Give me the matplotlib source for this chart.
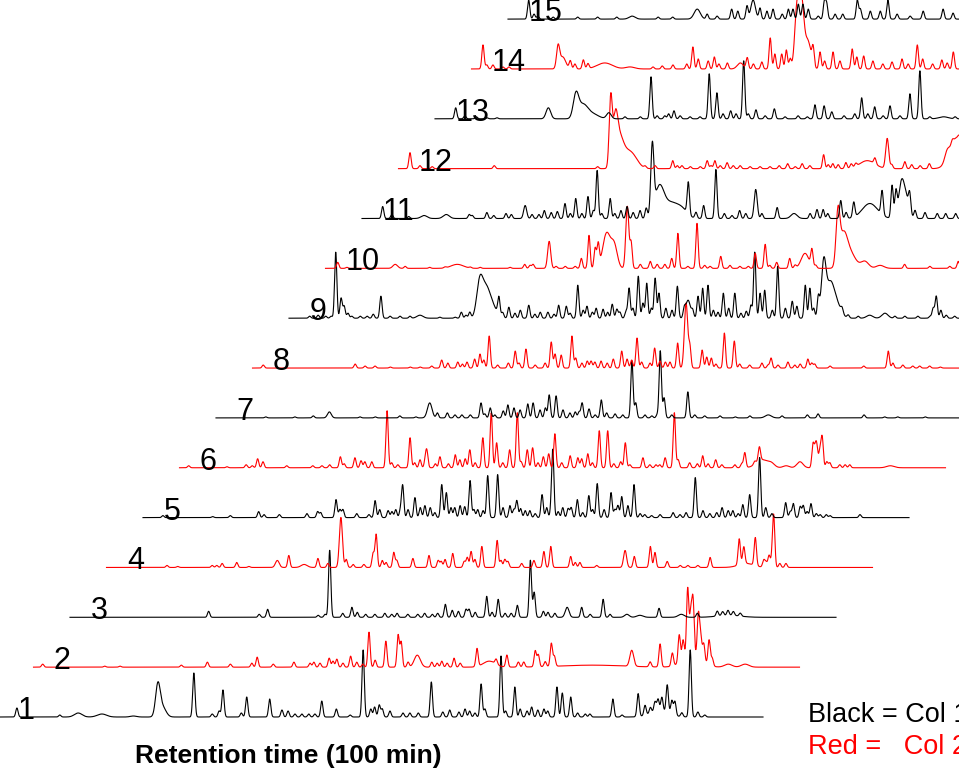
import numpy as np
import matplotlib
matplotlib.use("Agg")
import matplotlib.pyplot as plt

# ---------------- data: peaks per chromatogram (retention time in min, relative intensity, optional width in min)
trace_labels = [str(i) for i in range(1, 16)]
trace_colors = ["black", "red"] * 8

peaks_01 = [(2.6,9),(8.2,2),(10.6,4,0.5),(13.7,3,0.6),(17.8,1,0.4),(21.0,31,0.3),(21.6,10,0.45),
            (25.7,44),(28.1,3),(29.0,6),(29.5,27),(31.9,4),(32.6,20),(35.6,18),(37.2,7),(38.0,6),
            (38.9,3),(39.8,3),(40.7,3),(41.5,3),(42.4,16),(44.3,8),(46.1,2),(47.8,67),(48.8,8),
            (49.3,10),(49.9,12),(50.3,8),(51.3,6),(53.0,4),(53.9,4),(55.0,4),(56.7,35),(58.2,5),
            (59.1,7),(60.3,5),(61.1,8),(61.7,6),(62.4,4),(63.2,33),(63.7,8),(65.8,61),(66.4,6),
            (67.6,30),(68.3,8),(69.2,6),(69.8,10),(70.6,7),(71.4,8),(71.9,6),(73.1,30),(73.8,24),
            (74.9,20),(75.8,4),(76.8,3),(77.4,3),(80.4,18),(81.6,2),(83.7,23),(84.6,10),(85.3,6),
            (85.9,10),(86.3,12),(86.8,14),(87.5,28),(88.1,14),(88.5,14),(89.4,4),(90.5,67),
            (91.5,5),(92.4,2),(86.5,6,1.2)]

peaks_02 = [(1.2,3),(9.3,1),(11.3,1),(19.3,2),(22.7,5),(25.7,3),(28.5,4),(29.2,10),(31.3,3),
            (34.0,5),(36.1,4),(36.6,5),(37.4,4),(38.6,9),(39.1,6),(39.6,8),(40.4,4),(41.4,11),
            (42.2,5),(43.0,3),(43.8,35),(44.6,7),(46.0,26),(47.6,32),(48.0,25),(48.9,5),
            (50.1,12,0.4),(52.0,5),(52.7,4),(53.3,6),(54.0,4),(54.9,9),(55.7,4),(57.9,18),
            (59.5,6,0.8),(60.4,5),(61.8,12),(63.3,5),(64.0,5),(65.5,16),(65.9,12),(66.8,5),
            (67.6,23),(68.0,10),(78.1,16,0.25),(80.5,5),(81.8,23),(83.4,13),(84.3,28),(84.8,20),
            (85.4,68),(85.8,40),(86.1,54),(86.8,43),(87.1,22),(87.5,18),(88.2,25),(88.6,8),
            (90.7,3,0.5),(92.9,3,0.5),(73.0,2,4.0),(86.0,12,1.2)]

peaks_03 = [(18.1,6),(24.7,3),(25.8,8),(32.4,2),(33.3,3),(33.9,67),(35.6,4),(36.8,10),(37.5,5),
            (38.6,3),(39.8,3),(41.1,4),(42.0,3),(42.7,4),(44.1,3),(45.4,3),(46.3,4),(47.3,3),
            (48.0,4),(49.0,13),(49.9,7),(50.7,6),(51.7,8),(52.1,8),(52.9,5),(54.4,21),(55.1,5),
            (55.9,18),(56.8,4),(57.6,4),(58.4,12),(60.1,57),(60.6,25),(61.8,6),(62.4,5),(63.3,4),
            (64.9,10,0.25),(66.8,10),(67.9,3),(69.6,18),(70.5,3),(72.7,3,0.3),(74.4,2,0.4),
            (76.9,9),(79.8,3,0.4),(81.9,4),(84.5,5),(85.2,4),(85.9,5),(86.6,4),(87.5,3),
            (86.0,2,1.5)]

peaks_04 = [(7.9,2),(9.3,1),(13.8,2),(14.4,2),(15.1,4),(17.0,5),(18.6,1),(22.3,7,0.25),(23.8,12),
            (25.8,3,0.4),(27.6,9),(28.9,4),(30.6,50,0.2),(31.3,8),(32.2,3),(33.6,3),(34.8,14),
            (35.2,33),(36.0,7),(36.5,5),(37.5,15),(37.9,7),(40.0,9),(42.1,12),(43.3,7),(43.7,6),
            (44.2,8),(45.2,14),(46.7,6),(47.1,10),(47.6,16),(48.1,8),(49.0,21),(51.0,27),(51.5,7),
            (52.0,8),(52.4,6),(54.2,4),(55.8,7),(57.1,16),(58.0,21),(60.6,11),(61.2,5),(61.8,5),
            (64.0,2),(67.7,17,0.2),(68.9,11),(71.0,21),(71.6,15),(73.2,6),(74.9,2),(75.9,2),
            (77.2,2),(78.8,10),(82.6,26),(83.2,17),(84.7,28),(85.8,7),(86.1,5),(86.5,12),
            (86.9,8),(87.1,50),(87.9,4),(88.7,4),(83.5,4,1.0)]

peaks_05 = [(2.6,2),(9.1,1),(11.4,2),(15.1,6),(15.8,3),(17.8,3),(21.4,4),(22.8,6),(23.2,5),
            (25.2,18),(25.7,8),(26.1,8),(27.9,4),(29.5,3),(30.3,17),(30.9,8),(32.0,7),(32.5,6),
            (33.0,8),(33.6,7),(33.9,32),(34.6,8),(35.5,20),(36.2,10),(36.8,12),(37.5,10),(38.1,5),
            (39.0,33),(39.6,25),(40.2,10),(40.7,10),(41.4,12),(42.0,11),(42.7,37),(43.2,8),
            (43.7,8),(44.4,7),(45.0,42),(46.3,43),(47.0,10),(47.9,12),(48.4,8),(48.8,17),(49.3,9),
            (49.9,7),(50.5,7),(51.2,4),(52.1,23),(52.7,10),(53.3,8),(53.5,65),(54.2,6),(54.8,10),
            (55.5,9),(55.9,10),(56.7,18),(57.4,5),(58.2,22),(58.7,8),(59.3,34),(60.2,8),(61.1,25),
            (61.6,8),(62.0,12),(62.5,21),(63.3,12),(64.1,33),(64.9,4),(65.5,3),(66.4,2),(67.5,3),
            (69.2,5),(70.1,3),(70.9,5),(72.1,40),(73.1,7),(74.0,4),(74.9,5),(75.6,10),(76.4,7),
            (77.0,7),(77.7,4),(78.3,13),(79.2,23),(80.5,60),(81.3,10),(82.1,4),(83.9,15),(84.5,6),
            (84.9,14),(85.8,11),(86.2,12),(86.7,6),(87.2,14),(87.9,4),(88.4,3),(89.2,3),(89.7,2),
            (93.6,3)]

peaks_06 = [(1.2,2),(6.2,1),(8.7,3),(9.5,2),(10.2,9),(10.9,6),(14.0,2),(17.4,2),(18.6,2),(19.6,3),
            (21.0,11),(21.5,4),(22.9,10),(23.7,7),(24.2,6),(25.1,6),(27.1,57),(27.7,5),(28.5,3),
            (30.1,30),(30.7,5),(31.4,8),(32.1,8),(32.3,15),(33.4,4),(34.0,11),(35.1,4),(36.0,13),
            (36.6,8),(37.3,9),(37.9,18),(38.6,5),(39.6,30),(40.7,55),(41.4,25),(42.2,5),(43.1,18),
            (44.1,55),(44.6,6),(45.4,18),(46.1,20),(46.8,5),(47.5,11),(48.2,14),(49.0,34),(49.9,5),
            (51.0,12),(52.0,10),(52.5,9),(53.3,14),(53.9,5),(54.8,37),(55.9,37),(56.7,4),(57.6,6),
            (58.2,25),(58.8,3),(60.5,10),(61.4,3),(62.2,3),(62.7,3),(63.4,10),(64.6,55),(65.1,8),
            (66.6,5),(67.6,4),(68.3,12),(69.0,4),(70.0,8),(70.8,3),(72.5,3),(73.4,4),(73.8,15),
            (75.1,3),(75.7,14),(76.1,8,0.8),(77.3,3,0.4),(79.2,2,0.4),(81.0,6,0.4),(82.7,23),
            (83.0,15),(83.2,18),(83.6,16),(83.9,30),(84.5,6),(84.9,5),(86.2,3),(86.9,3),(87.5,3),
            (92.8,2,0.5)]

peaks_07 = [(6.5,1),(10.3,1),(12.7,2),(14.8,6,0.25),(18.8,1),(20.8,1),(24.0,2),(26.1,1),
            (27.9,15,0.3),(28.9,5),(30.2,5),(31.2,3),(32.1,3),(33.2,3),(34.6,15),(35.1,4),(35.8,10),
            (36.4,3),(37.5,7),(38.1,13),(38.9,10),(39.7,8),(40.7,14),(41.4,15),(42.3,8),(43.0,10),
            (43.5,23),(44.4,22),(45.3,8),(46.2,5),(46.9,6),(47.4,6),(47.8,15),(48.7,9),(49.5,3),
            (50.3,18),(51.0,5),(52.1,4),(53.1,3),(54.3,57),(54.8,15),(56.0,3),(56.9,2),(57.6,3),
            (58.0,67),(58.5,20),(59.5,3),(61.6,26),(62.5,3),(63.8,2),(65.8,2),(67.8,1),(69.7,2),
            (72.1,3,0.4),(73.9,2),(77.2,3),(78.6,4),(84.6,3),(87.3,1),(89.0,1),(92.6,1)]

peaks_08 = [(1.4,3),(13.4,4),(14.7,2),(16.0,2),(18.0,1),(20.6,1),(21.9,1),(23.4,2),(24.7,8),
            (25.5,5),(26.8,6),(27.4,4),(28.0,6),(29.0,9),(29.7,14),(30.2,8),(30.9,32),(32.0,3),
            (33.4,5),(34.3,17),(34.8,5),(35.7,19),(36.9,3),(38.2,5),(39.0,26),(39.5,14),(40.3,13),
            (41.7,32),(42.2,10),(43.0,5),(43.7,7),(44.2,7),(44.7,6),(45.5,7),(46.3,5),(47.1,9),
            (48.2,17),(48.9,9),(49.5,8),(50.2,30),(50.8,6),(51.9,5),(52.5,20),(53.2,7),(53.9,6),
            (54.5,6),(55.5,25),(56.6,65,0.22),(57.1,20),(58.7,18),(59.3,11),(59.9,10),(60.5,4),
            (61.6,35),(62.9,27),(63.6,4),(64.9,3),(66.5,5),(67.3,3),(67.7,10),(68.6,3),(69.9,6),
            (70.8,3),(71.5,4),(72.5,9),(73.0,5),(73.4,4),(75.4,2),(79.8,2),(83.0,17),(83.6,5),
            (84.9,3),(86.2,2),(87.1,2),(88.4,2),(89.8,1)]

peaks_09 = [(2.7,2),(3.8,3),(4.8,2),(5.5,2),(6.1,66),(6.8,20),(7.2,12),(7.7,5),(8.2,2),(9.3,2),
            (10.2,2),(11.0,4),(12.0,22),(13.2,2),(14.5,2),(15.8,2),(17.1,3,0.4),(19.7,1),(21.7,1),
            (22.5,6),(23.1,3),(23.6,6),(24.9,35,0.4),(25.7,25,0.5),(26.5,12,0.6),(27.4,18),
            (27.9,5),(28.7,11),(29.5,5),(30.2,8),(31.3,13),(32.1,4),(32.8,6),(33.8,6),(34.6,4),
            (35.2,13),(36.2,12),(36.7,5),(37.7,33),(38.4,8),(38.9,12),(39.6,6),(40.1,10),(41.0,9),
            (41.6,6),(42.2,14),(42.8,9),(43.2,6),(44.0,7),(44.4,30),(44.9,10),(45.6,42),(46.2,15),
            (46.7,35),(47.3,10),(47.8,40),(48.3,25),(49.2,10),(50.0,8),(50.7,32),(51.6,8),
            (52.1,18,0.3),(52.7,7),(53.4,22),(54.0,30),(54.7,33),(55.4,8),(56.0,6),(56.7,25),
            (57.4,10),(58.2,25),(59.0,5),(59.7,7),(60.3,13),(60.8,66),(61.5,25),(62.1,28),(63.1,8),
            (63.8,52),(64.8,10),(65.7,17),(66.3,12),(67.4,33),(68.0,30),(68.5,10),(69.1,20),
            (69.8,52,0.3),(70.6,30,0.5),(71.4,15,0.6),(72.2,5),(73.0,3),(74.3,2),(75.8,3,0.4),
            (77.8,5,0.4),(79.1,2),(80.4,2),(82.1,2),(83.7,2),(84.1,10),(84.5,22),(85.1,8),(85.8,3),
            (86.9,2)]

peaks_10 = [(1.6,6),(2.8,1),(9.1,4,0.3),(10.4,2),(13.6,1),(15.6,1),(17.2,4,0.8),(18.9,1),(20.2,1),
            (24.1,1),(26.0,4),(26.7,3),(27.1,4),(29.2,27,0.2),(30.1,2),(31.3,2),(32.6,2),(33.4,10),
            (34.4,33),(35.2,20),(35.6,23),(36.7,35,0.5),(37.7,22,0.4),(39.4,62,0.2),(39.9,25),
            (41.1,4),(42.4,7),(43.3,4),(44.3,4),(45.2,10),(46.0,35),(47.3,2),(48.5,45),(49.5,3),
            (50.2,2),(51.6,12),(52.8,3),(54.1,2),(55.2,2),(56.1,15),(57.4,24),(58.0,3),(58.9,6),
            (60.6,10),(61.3,3),(62.6,15,0.5),(63.5,17),(64.0,3),(66.9,50,0.25),(67.6,30,0.5),
            (68.5,15,0.7),(70.4,7,0.5),(72.4,3,0.5),(75.6,4),(78.9,2),(81.5,2),(82.6,7)]

peaks_11 = [(2.7,12),(3.9,4),(6.1,2),(8.1,3,0.4),(11.0,4,0.4),(14.0,4),(14.4,3),(16.3,6),(17.2,3),
            (18.8,5),(19.5,4),(21.3,13,0.2),(22.2,4),(23.1,4),(23.8,8),(24.7,6),(25.5,7),(26.5,15),
            (27.2,5),(27.9,20),(28.7,5),(29.5,22),(30.2,8),(30.7,48),(31.3,5),(32.4,20),(33.0,5),
            (33.8,8),(34.6,12),(35.4,6),(36.3,8),(37.1,10),(37.9,67,0.2),(38.8,30,0.6),
            (40.3,15,0.9),(41.8,8,0.7),(42.6,32),(43.6,6),(44.6,13),(46.2,49),(47.3,5),(48.3,3),
            (49.3,8),(50.1,5),(51.4,29,0.2),(52.2,5),(54.2,11),(56.4,5,0.4),(58.5,5),(59.4,9),
            (60.2,9),(60.8,5),(62.5,18),(63.2,6),(64.2,15),(66.3,15,1.0),(67.9,24),(69.2,33),
            (69.7,25),(70.4,32,0.35),(71.0,20,0.4),(71.5,18),(72.2,8),(73.5,6),(75.1,5),(76.2,5),
            (77.5,5)]

peaks_12 = [(1.5,16),(2.8,3),(4.4,2),(12.5,3),(26.0,2),(27.7,67,0.2),(28.3,40,0.3),(28.8,25,0.5),
            (29.7,14,0.8),(30.7,8,0.7),(32.2,2),(33.5,3),(35.8,8),(36.4,3),(37.0,3),(38.1,2),
            (39.4,2),(40.3,8),(40.8,3),(41.3,8),(42.0,3),(42.9,6),(43.7,3),(44.6,3),(45.9,2),
            (47.2,2),(48.5,2),(49.7,3),(50.8,5),(51.8,2),(52.7,5),(53.7,3),(55.5,14),(56.1,4),
            (56.7,5),(57.4,4),(58.4,6),(59.1,4),(59.7,3),(61.2,8,1.0),(62.2,6),(63.8,30,0.2),
            (64.4,4),(66.1,7),(67.0,4),(68.1,3),(69.3,5),(71.6,8,0.3),(72.9,31,0.9),(72.3,4),
            (73.2,4)]

peaks_13 = [(2.7,11),(3.9,3),(5.4,2),(6.8,1),(8.1,1),(14.8,11,0.3),(18.4,23,0.35),(19.3,13,0.6),
            (20.5,5,0.8),(22.7,6,0.3),(24.8,2),(26.8,2),(28.2,42),(29.0,3),(30.0,3),(30.5,5),
            (31.2,8),(32.0,3),(33.3,2),(34.6,2),(35.8,45),(36.8,26),(37.6,5),(38.6,8),(39.3,5),
            (40.3,58),(40.9,5),(41.9,9),(43.1,3),(44.3,10),(45.7,2),(47.4,3),(48.6,2),(49.6,14),
            (50.8,13),(51.8,7),(53.4,3),(54.8,5),(55.7,21),(56.5,5),(57.4,12),(58.5,3),(59.4,13),
            (60.7,3),(62.0,25),(63.3,48),(64.6,2),(66.4,2,0.6),(67.9,2)]

peaks_14 = [(1.5,24),(2.0,4),(2.8,4),(4.1,2),(4.9,2),(11.3,21,0.2),(11.9,12,0.4),(12.9,8),(13.5,5),
            (14.6,9),(15.2,5),(17.4,6,1.0),(20.7,2,0.6),(23.7,2),(24.9,3),(26.3,4),(28.1,5),
            (28.9,22),(29.6,10),(30.9,8),(31.7,12),(32.3,5),(33.4,6),(35.1,6,0.4),(36.0,11),
            (36.8,5),(37.9,7),(39.0,31),(39.6,15),(40.5,15),(41.1,19),(41.6,10),(42.5,61,0.3),
            (43.1,62,0.3),(43.9,28,0.4),(44.6,18),(45.5,17),(46.1,8),(47.2,17),(48.1,8),(49.7,20),
            (50.3,12),(51.2,13),(52.4,8),(53.7,5),(54.9,7),(56.2,10),(57.0,5),(58.2,24),(58.9,10),
            (60.2,5),(61.4,9),(62.1,6),(62.9,17)]

peaks_15 = [(2.7,19),(3.4,5),(3.9,3),(5.9,2),(9.1,2),(11.7,2),(14.2,2),(16.2,3,0.4),(19.6,2),
            (21.5,2),(24.7,10,0.4),(26.0,5),(27.3,3),(29.2,10),(30.0,8),(31.2,13),(32.0,19,0.3),
            (32.9,11),(33.8,8),(34.6,10),(35.8,5),(36.6,10),(37.2,10),(37.9,15),(38.5,15),(39.2,10),
            (40.5,3),(41.3,17),(41.6,15),(42.7,5),(43.7,5),(45.6,19),(46.0,10),(47.3,8),(48.6,8),
            (49.6,19),(50.8,5),(52.5,3),(54.2,8),(56.8,10),(58.1,6)]

traces = [peaks_01, peaks_02, peaks_03, peaks_04, peaks_05, peaks_06, peaks_07, peaks_08,
          peaks_09, peaks_10, peaks_11, peaks_12, peaks_13, peaks_14, peaks_15]

run_length_min = 100.0
default_width = 0.15

# ---------------- layout (waterfall offsets)
px_per_min = 7.66
x_step = 36.5 / px_per_min      # horizontal shift per trace, in minutes
x_first = -3.0 / px_per_min
y_step = 49.85                  # vertical shift per trace, in intensity units
y_first = 52.0

fig = plt.figure(figsize=(9.59, 7.69), dpi=100)
ax = fig.add_axes([0, 0, 1, 1])
ax.set_xlim(0, 959 / px_per_min)
ax.set_ylim(0, 769)
ax.axis("off")

t = np.linspace(0, run_length_min, 8001)
font = "Liberation Sans"

for i, (peaks, color, label) in enumerate(zip(traces, trace_colors, trace_labels)):
    sig = np.zeros_like(t)
    for p in peaks:
        t0, h = p[0], p[1]
        w = p[2] if len(p) > 2 else default_width
        sig += h * np.exp(-0.5 * ((t - t0) / w) ** 2)
    xo = x_first + i * x_step
    yo = y_first + i * y_step
    ax.plot(t + xo, sig + yo, color=color, lw=0.8, solid_joinstyle="round")
    ax.text(xo + 20.5 / px_per_min, yo - 2, label, fontsize=22, family=font,
            ha="left", va="baseline", color="black")

ax.text(288 / px_per_min, 769 - 763, "Retention time (100 min)", fontsize=19,
        fontweight="bold", family=font, ha="center", va="baseline")
ax.text(808 / px_per_min, 769 - 722, "Black = Col 1", fontsize=19.5, family=font,
        ha="left", va="baseline", color="black", clip_on=False)
ax.text(808 / px_per_min, 769 - 754, "Red =   Col 2", fontsize=19.5, family=font,
        ha="left", va="baseline", color="red", clip_on=False)

fig.savefig("out.png", dpi=100)
